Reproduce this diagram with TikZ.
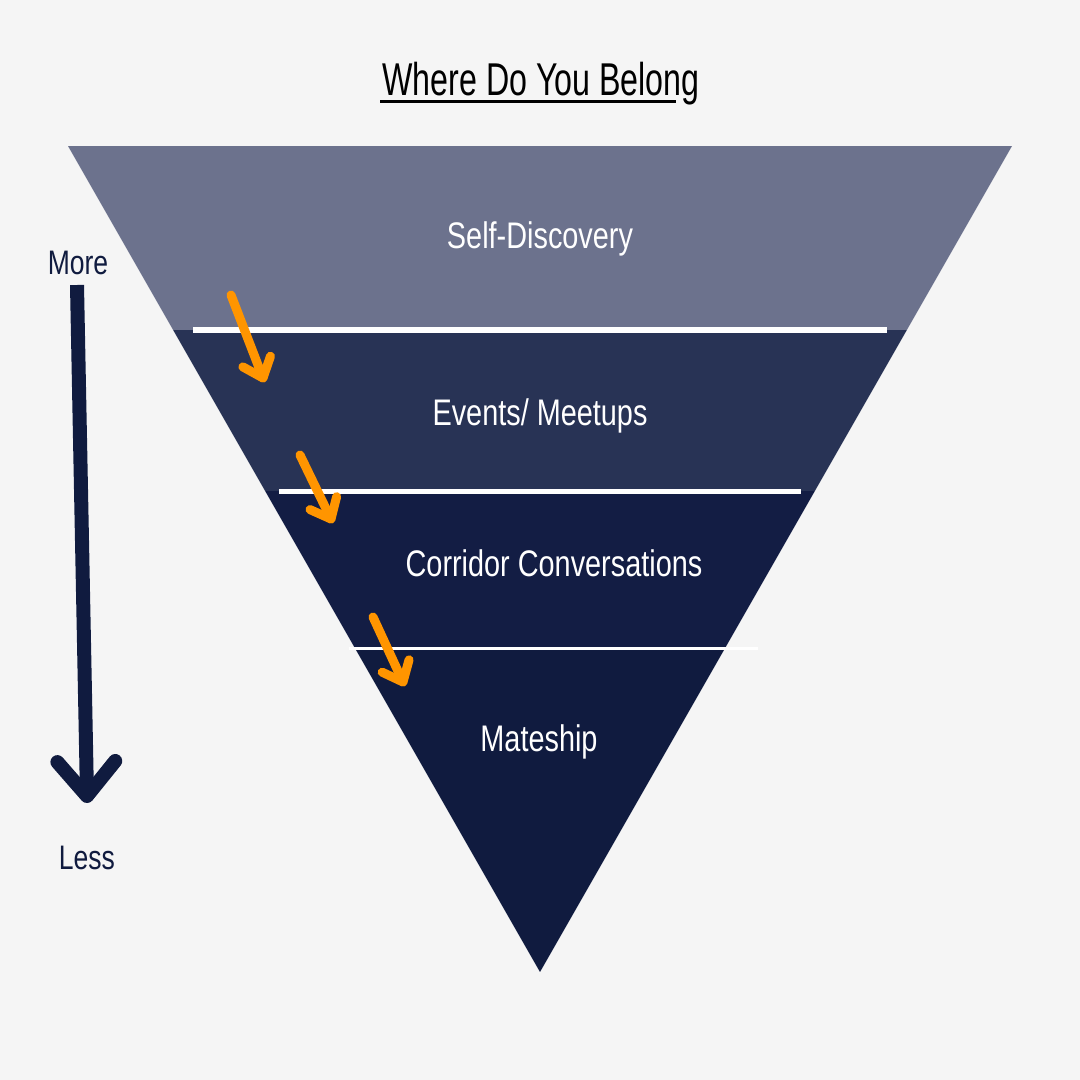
\documentclass[tikz,border=0pt]{standalone}
\usepackage{fontspec}
\setmainfont{Liberation Sans}
\newfontfamily\titlefont[FakeStretch=0.7]{Liberation Sans}
\newfontfamily\bandfont[FakeStretch=0.78]{Liberation Sans}
\usetikzlibrary{calc}
\definecolor{bgGrey}{HTML}{F5F5F5}
\definecolor{bandOne}{HTML}{6C728D}
\definecolor{bandTwo}{HTML}{283355}
\definecolor{bandThree}{HTML}{131D44}
\definecolor{bandFour}{HTML}{101B3F}
\definecolor{navyDark}{HTML}{101B3F}
\definecolor{arrowOrange}{HTML}{FF9500}
\tikzset{
	band label/.style={text=white, font=\bandfont\fontsize{37}{42}\selectfont, anchor=base, inner sep=0pt},
	side label/.style={text=navyDark, font=\bandfont\fontsize{34}{40}\selectfont, anchor=base, inner sep=0pt},
	nudge arrow/.style={draw=arrowOrange, line width=9pt, line cap=round, line join=round},
	scale arrow/.style={draw=navyDark, line width=14pt, line join=round}
}
\def\barb[#1](#2)(#3:#4){\draw[#1] ($(#2)!#4!#3:(#2-from)$) -- (#2) -- ($(#2)!#4!-#3:(#2-from)$);}

\begin{document}
\begin{tikzpicture}[x=1pt, y=-1pt]
			%%%%% START %%%%%
			
			\fill[bgGrey] (0, 0) rectangle (1080, 1080);
			\useasboundingbox (0, 0) rectangle (1080, 1080);
			
			\node[font=\titlefont\fontsize{46}{52}\selectfont, anchor=base, inner sep=0pt] (title) at (541, 95) {Where Do You Belong};
			\draw[line width=3pt] ($(title.base west)+(-2, 6.5)$) -- ($(title.base east)+(-24, 6.5)$);
			
			\begin{scope}
				\clip (68, 146) -- (1012, 146) -- (540, 972) -- cycle;
				\fill[bandOne] (0, 146) rectangle (1080, 330);
				\fill[bandTwo] (0, 330) rectangle (1080, 491);
				\fill[bandThree] (0, 491) rectangle (1080, 648);
				\fill[bandFour] (0, 648) rectangle (1080, 972);
			\end{scope}
			
			\draw[white, line width=5.5pt] (193, 330) -- (887, 330);
			\draw[white, line width=5pt] (279, 491.5) -- (801, 491.5);
			\draw[white, line width=3.5pt] (349, 648.5) -- (758, 648.5);
			
			\node[band label] (self) at (540, 248) {Self-Discovery};
			\node[band label] (events) at (540, 425) {Events/ Meetups};
			\node[band label] (corridor) at (554, 576) {Corridor Conversations};
			\node[band label] (mates) at (539, 751) {Mateship};
			
			\node[side label] (more) at (78, 274) {More};
			\node[side label] (less) at (87, 869) {Less};
			
			\coordinate (scale-from) at (77, 285);
			\coordinate (scale) at (87, 796);
			\draw[scale arrow] (scale-from) -- (scale);
			\barb[scale arrow, line cap=round](scale)(40:45pt)
			
			\coordinate (nudge1-from) at (231, 295);
			\coordinate (nudge1) at (263, 378);
			\coordinate (nudge2-from) at (300, 455);
			\coordinate (nudge2) at (331, 519);
			\coordinate (nudge3-from) at (373, 617);
			\coordinate (nudge3) at (403, 682);
			
			\draw[nudge arrow] (nudge1-from) -- (nudge1);
			\barb[nudge arrow](nudge1)(40:23pt)
			\draw[nudge arrow] (nudge2-from) -- (nudge2);
			\barb[nudge arrow](nudge2)(40:23pt)
			\draw[nudge arrow] (nudge3-from) -- (nudge3);
			\barb[nudge arrow](nudge3)(40:23pt)
			
			%%%%% END %%%%%
		\end{tikzpicture}
\end{document}
